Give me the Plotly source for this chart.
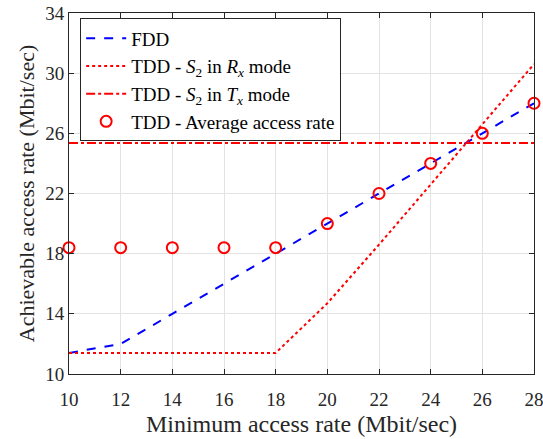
import plotly.graph_objects as go

x_vals = [10, 12, 14, 16, 18, 20, 22, 24, 26, 28]
fdd = [11.4, 12.0, 14.0, 16.0, 18.05, 20.0, 22.0, 24.0, 26.0, 28.0]
tdd_rx = [11.4, 11.4, 11.4, 11.4, 11.4, 14.7, 18.6, 22.6, 26.6, 30.6]
tdd_tx = [25.35] * 10
tdd_avg = [18.4, 18.4, 18.4, 18.4, 18.4, 20.0, 22.0, 24.0, 26.0, 28.0]
x_ticks = [10, 12, 14, 16, 18, 20, 22, 24, 26, 28]
y_ticks = [10, 14, 18, 22, 26, 30, 34]

FONT = "Liberation Serif"

fig = go.Figure()
fig.add_trace(go.Scatter(x=x_vals, y=fdd, mode="lines", name="FDD",
                         line=dict(color="#0000ff", width=2, dash="dash")))
fig.add_trace(go.Scatter(x=x_vals, y=tdd_rx, mode="lines",
                         name="TDD - <i>S</i><sub>2</sub> in <i>R<sub>x</sub></i> mode",
                         line=dict(color="#ff0000", width=2, dash="dot")))
fig.add_trace(go.Scatter(x=x_vals, y=tdd_tx, mode="lines",
                         name="TDD - <i>S</i><sub>2</sub> in <i>T<sub>x</sub></i> mode",
                         line=dict(color="#ff0000", width=2, dash="dashdot")))
fig.add_trace(go.Scatter(x=x_vals, y=tdd_avg, mode="markers",
                         name="TDD - Average access rate",
                         marker=dict(symbol="circle-open", color="#ff0000", size=11,
                                     line=dict(width=2, color="#ff0000")),
                         cliponaxis=False))

axis_common = dict(showline=True, linecolor="#262626", linewidth=1, mirror="ticks",
                   ticks="inside", ticklen=5, tickcolor="#262626",
                   showgrid=True, gridcolor="#e3e3e3", gridwidth=1, zeroline=False,
                   automargin=False, ticklabeloverflow="allow",
                   tickfont=dict(family=FONT, size=19, color="#262626"))

fig.update_xaxes(range=[10, 28], tickvals=x_ticks, ticklabelstandoff=8,
                 title=dict(text="Minimum access rate (Mbit/sec)",
                            font=dict(family=FONT, size=24, color="#262626"), standoff=6),
                 **axis_common)
fig.update_yaxes(range=[10, 34], tickvals=y_ticks,
                 title=dict(text="Achievable access rate (Mbit/sec)",
                            font=dict(family=FONT, size=22, color="#262626"), standoff=4),
                 **axis_common)

fig.update_layout(
    width=543, height=439,
    margin=dict(l=69, r=9, t=13, b=65),
    plot_bgcolor="white", paper_bgcolor="white",
    font=dict(family=FONT, color="#262626"),
    legend=dict(x=0.024, y=0.985, xanchor="left", yanchor="top",
                bgcolor="white", bordercolor="#262626", borderwidth=1,
                font=dict(family=FONT, size=19, color="#000000"),
                tracegroupgap=0, itemwidth=40),
    showlegend=True,
)

fig.write_html("out.html", config={"displayModeBar": False},
               post_script="document.body.style.margin='0';document.body.style.overflow='hidden';")
